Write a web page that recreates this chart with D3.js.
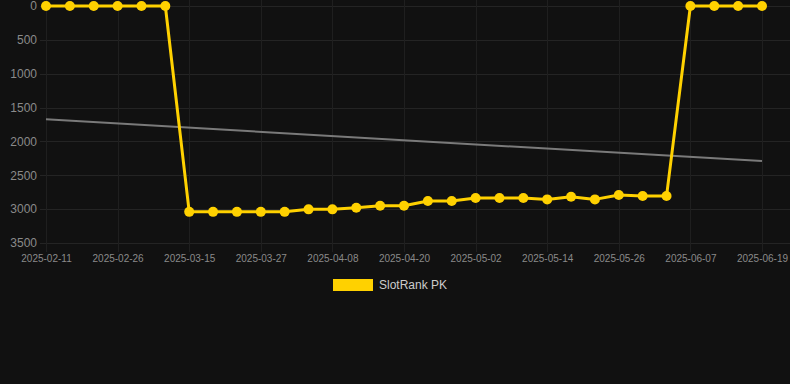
<!DOCTYPE html>
<html><head><meta charset="utf-8">
<script src="https://cdn.jsdelivr.net/npm/d3@7"></script>
<style>html,body{margin:0;padding:0;background:#111111;}</style>
</head><body>
<svg id="c" width="790" height="384"></svg>
<script>
const dates = ["2025-02-11","2025-02-16","2025-02-21","2025-02-26","2025-03-03","2025-03-09","2025-03-15","2025-03-19","2025-03-23","2025-03-27","2025-03-31","2025-04-04","2025-04-08","2025-04-12","2025-04-16","2025-04-20","2025-04-24","2025-04-28","2025-05-02","2025-05-06","2025-05-10","2025-05-14","2025-05-18","2025-05-22","2025-05-26","2025-05-30","2025-06-03","2025-06-07","2025-06-11","2025-06-15","2025-06-19"];
const rankValues = [0,0,0,0,0,0,3040,3040,3040,3040,3040,3003,3003,2979,2950,2950,2880,2880,2836,2836,2836,2856,2817,2856,2792,2807,2807,0,0,0,0];
const trendValues = [1674, 2290];
const yTicks = [0,500,1000,1500,2000,2500,3000,3500];
const seriesName = "SlotRank PK";

(function(){
const svg = d3.select("#c");
const W = 790, H = 384;
svg.append("rect").attr("width",W).attr("height",H).attr("fill","#111111");
const pLeft = 40, pRight = 790, pTop = 0, pBottom = 252;
const x = d3.scalePoint().domain(dates).range([46, 762]);
const y = d3.scaleLinear().domain([0,3500]).range([6, 243]);
const labelDates = dates.filter((d,i)=> i%3===0);

const g = svg.append("g");
g.selectAll("line.h").data(yTicks).enter().append("line")
  .attr("x1",pLeft).attr("x2",pRight).attr("y1",d=>Math.round(y(d))+0.5).attr("y2",d=>Math.round(y(d))+0.5)
  .attr("stroke","#242424").attr("stroke-width",1);
g.selectAll("line.v").data(labelDates).enter().append("line")
  .attr("x1",d=>Math.round(x(d))+0.5).attr("x2",d=>Math.round(x(d))+0.5).attr("y1",pTop).attr("y2",pBottom)
  .attr("stroke","#1f1f1f").attr("stroke-width",1);

const ya = svg.append("g").attr("transform",`translate(37,0)`)
  .call(d3.axisLeft(y).tickValues(yTicks).tickSize(0).tickPadding(0).tickFormat(d3.format("d")));
ya.select(".domain").remove();
ya.selectAll("text").attr("fill","#8a8a8a").attr("font-family","Arial, Liberation Sans, sans-serif").attr("font-size","12px");

const xa = svg.append("g").attr("transform",`translate(0,255)`)
  .call(d3.axisBottom(x).tickValues(labelDates).tickSize(0).tickPadding(0));
xa.select(".domain").remove();
xa.selectAll("text").attr("fill","#8a8a8a").attr("font-family","Arial, Liberation Sans, sans-serif").attr("font-size","10px");

svg.append("line")
  .attr("x1",x(dates[0])).attr("x2",x(dates[dates.length-1]))
  .attr("y1",y(trendValues[0])).attr("y2",y(trendValues[1]))
  .attr("stroke","#7a7a7a").attr("stroke-width",2);

const line = d3.line().x((d,i)=>x(dates[i])).y(d=>y(d));
svg.append("path").datum(rankValues).attr("d",line)
  .attr("fill","none").attr("stroke","#FFD100").attr("stroke-width",3).attr("stroke-linejoin","round");
svg.selectAll("circle.p").data(rankValues).enter().append("circle")
  .attr("cx",(d,i)=>x(dates[i])).attr("cy",d=>y(d)).attr("r",5).attr("fill","#FFD100");

svg.append("rect").attr("x",333).attr("y",279).attr("width",40).attr("height",12).attr("fill","#FFD100");
svg.append("text").attr("x",379).attr("y",289).text(seriesName)
  .attr("fill","#cccccc").attr("font-family","Arial, Liberation Sans, sans-serif").attr("font-size","12px");
})();
</script>
</body></html>
